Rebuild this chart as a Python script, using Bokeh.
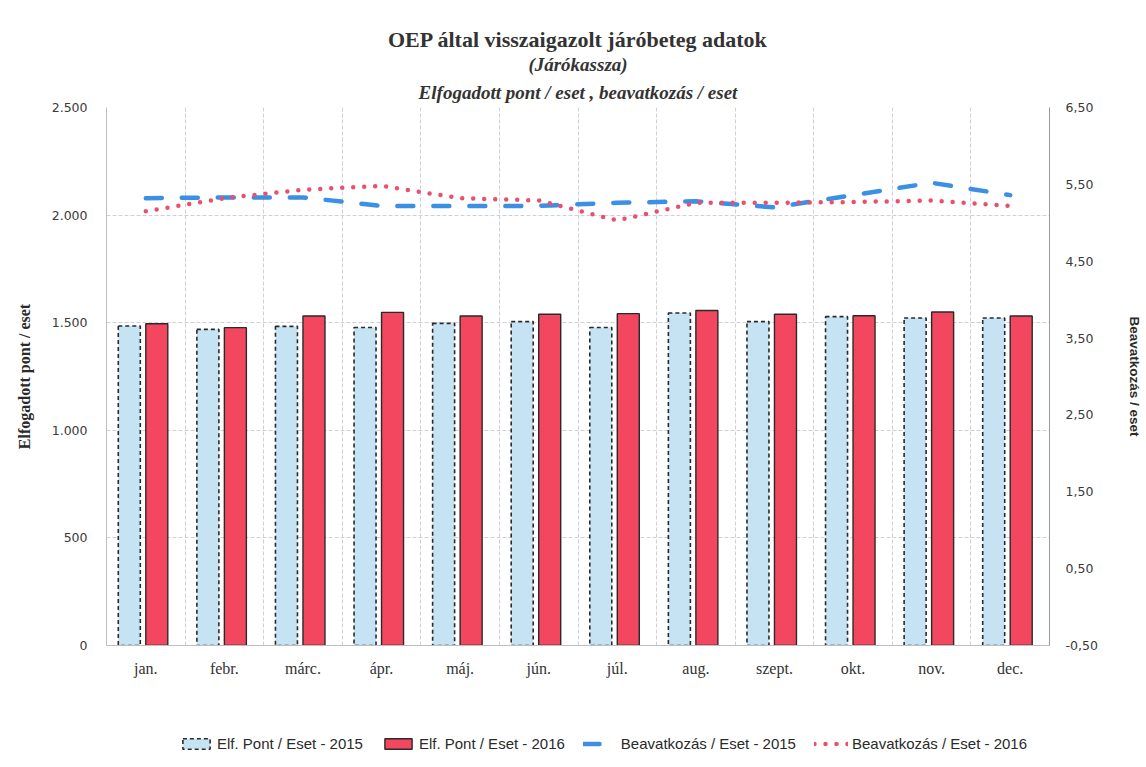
from bokeh.plotting import figure
from bokeh.layouts import column
from bokeh.models import (Range1d, LinearAxis, FixedTicker, CustomJSTickFormatter, Grid,
                          Title, Legend, LegendItem, ColumnDataSource)
from bokeh.transform import dodge
from bokeh.embed import file_html
from bokeh.resources import INLINE

# ---- data ----
months = ["jan.", "febr.", "márc.", "ápr.", "máj.", "jún.", "júl.", "aug.", "szept.", "okt.", "nov.", "dec."]
pont_2015 = [1485, 1469, 1483, 1478, 1497, 1505, 1478, 1545, 1505, 1528, 1522, 1522]
pont_2016 = [1495, 1477, 1531, 1548, 1531, 1539, 1542, 1557, 1539, 1532, 1550, 1531]
beav_2015 = [5.32, 5.33, 5.33, 5.22, 5.22, 5.22, 5.26, 5.28, 5.20, 5.36, 5.52, 5.36]
beav_2016 = [5.15, 5.32, 5.43, 5.48, 5.32, 5.29, 5.03, 5.26, 5.26, 5.27, 5.29, 5.22]
left_ticks = [0, 500, 1000, 1500, 2000, 2500]
right_ticks = [-0.5, 0.5, 1.5, 2.5, 3.5, 4.5, 5.5, 6.5]
legend_labels = ["Elf. Pont / Eset - 2015", "Elf. Pont / Eset - 2016",
                 "Beavatkozás / Eset - 2015", "Beavatkozás / Eset - 2016"]

n = len(months)
xc = [i + 0.5 for i in range(n)]
src = ColumnDataSource(dict(x=xc, m=months, p15=pont_2015, p16=pont_2016, b15=beav_2015, b16=beav_2016))

# styles
bar15_style = dict(fill_color="#c6e3f4", line_color="#2a2a2a", line_width=1.6, line_dash="4 3")
bar16_style = dict(fill_color="#f2475f", line_color="#2a2a2a", line_width=1.4)
line15_style = dict(line_color="#3b8fe4", line_width=4.5, line_dash="16 20", line_cap="round")
line16_style = dict(line_color="#ea4f6e", line_width=4.5, line_dash="0 11", line_cap="round")

p = figure(width=1144, height=700, output_backend="svg", toolbar_location=None,
           x_range=Range1d(0, n), y_range=Range1d(0, 2500),
           min_border_left=106, min_border_right=86, min_border_top=107, min_border_bottom=55,
           background_fill_color="white", border_fill_color="white")
p.outline_line_color = None
p.extra_y_ranges = {"beav": Range1d(-0.5, 6.5)}

# grids
p.xgrid.visible = False
p.ygrid.grid_line_color = "#cfcfd8"
p.ygrid.grid_line_dash = "4 2"
p.ygrid.grid_line_width = 1
vgrid = Grid(dimension=0, ticker=FixedTicker(ticks=list(range(n + 1))),
             grid_line_color="#cfcfd8", grid_line_dash="4 2", grid_line_width=1)
p.add_layout(vgrid)

# bars
p.vbar(x=dodge("x", -0.21, range=p.x_range), top="p15", width=0.28, source=src, **bar15_style)
p.vbar(x=dodge("x", 0.14, range=p.x_range), top="p16", width=0.28, source=src, **bar16_style)

# lines on right axis
p.line(x="x", y="b15", source=src, y_range_name="beav", **line15_style)
p.line(x="x", y="b16", source=src, y_range_name="beav", **line16_style)

# axes
fmt_left = CustomJSTickFormatter(code="return tick.toFixed(0).replace(/\\B(?=(\\d{3})+(?!\\d))/g, '.');")
fmt_right = CustomJSTickFormatter(code="return tick.toFixed(2).replace('.', ',');")

p.xaxis.ticker = FixedTicker(ticks=xc)
p.xaxis.major_label_overrides = {x: m for x, m in zip(xc, months)}
p.xaxis.major_label_text_font = "Liberation Serif"
p.xaxis.major_label_text_font_size = "16px"
p.xaxis.major_label_text_color = "#333333"
p.xaxis.major_label_standoff = 8
p.xaxis.major_tick_line_color = None
p.xaxis.minor_tick_line_color = None
p.xaxis.axis_line_color = "#bdbdc4"

p.yaxis.ticker = FixedTicker(ticks=left_ticks)
p.yaxis.formatter = fmt_left
p.yaxis.major_label_text_font = "DejaVu Sans"
p.yaxis.major_label_text_font_size = "12.5px"
p.yaxis.major_label_text_color = "#3a3a3a"
p.yaxis.major_label_standoff = 13
p.yaxis.major_tick_line_color = None
p.yaxis.minor_tick_line_color = None
p.yaxis.axis_line_color = "#bdbdc4"
p.yaxis.axis_label = "Elfogadott pont / eset"
p.yaxis.axis_label_text_font = "Liberation Serif"
p.yaxis.axis_label_text_font_size = "16px"
p.yaxis.axis_label_text_font_style = "bold"
p.yaxis.axis_label_text_color = "#2a2a2a"
p.yaxis.axis_label_standoff = 16

ry = LinearAxis(y_range_name="beav", ticker=FixedTicker(ticks=right_ticks), formatter=fmt_right,
                major_label_text_font="DejaVu Sans", major_label_text_font_size="12.5px",
                major_label_text_color="#3a3a3a", major_label_standoff=10,
                major_tick_line_color=None, minor_tick_line_color=None,
                axis_line_color="#9a9aa4",
                axis_label="Beavatkozás / eset", axis_label_text_font="Liberation Sans",
                axis_label_text_font_size="13.5px", axis_label_text_font_style="bold",
                axis_label_text_color="#2a2a2a", axis_label_standoff=26)
p.add_layout(ry, "right")

# titles (added nearest-first)
p.title = None
t3 = Title(text="Elfogadott pont / eset , beavatkozás / eset", align="center",
           text_font="Liberation Serif", text_font_size="19px", text_font_style="bold italic",
           text_color="#333333", standoff=10)
t2 = Title(text="(Járókassza)", align="center", text_font="Liberation Serif",
           text_font_size="19px", text_font_style="bold italic", text_color="#333333", standoff=0)
t1 = Title(text="OEP által visszaigazolt járóbeteg adatok", align="center",
           text_font="Liberation Serif", text_font_size="22px", text_font_style="bold",
           text_color="#333333", standoff=0)
p.add_layout(t3, "above")
p.add_layout(t2, "above")
p.add_layout(t1, "above")

# legend strip below the chart (its sample renderers hold no drawable point)
nan = float("nan")
lg = figure(width=1144, height=65, output_backend="svg", toolbar_location=None,
            x_range=Range1d(0, 1), y_range=Range1d(0, 1),
            min_border_left=0, min_border_right=0, min_border_top=0, min_border_bottom=0,
            background_fill_color="white", border_fill_color="white")
lg.outline_line_color = None
lg.axis.visible = False
lg.grid.visible = False
lg.title = None
g1 = lg.vbar(x=[nan], top=[nan], width=0.1, **bar15_style)
g2 = lg.vbar(x=[nan], top=[nan], width=0.1, **bar16_style)
g3 = lg.line(x=[nan, nan], y=[nan, nan], **line15_style)
g4 = lg.line(x=[nan, nan], y=[nan, nan], **line16_style)
legend = Legend(items=[LegendItem(label=legend_labels[i], renderers=[g])
                       for i, g in enumerate([g1, g2, g3, g4])],
                orientation="horizontal", location=(73, 13),
                label_text_font="Liberation Sans", label_text_font_size="15px",
                label_text_color="#2a2a2a", glyph_width=34, glyph_height=13, label_standoff=4,
                spacing=18, padding=4, margin=0, border_line_color=None, background_fill_alpha=0)
lg.add_layout(legend)

layout = column(p, lg, spacing=0)
open("out.html", "w").write(file_html(layout, INLINE))
